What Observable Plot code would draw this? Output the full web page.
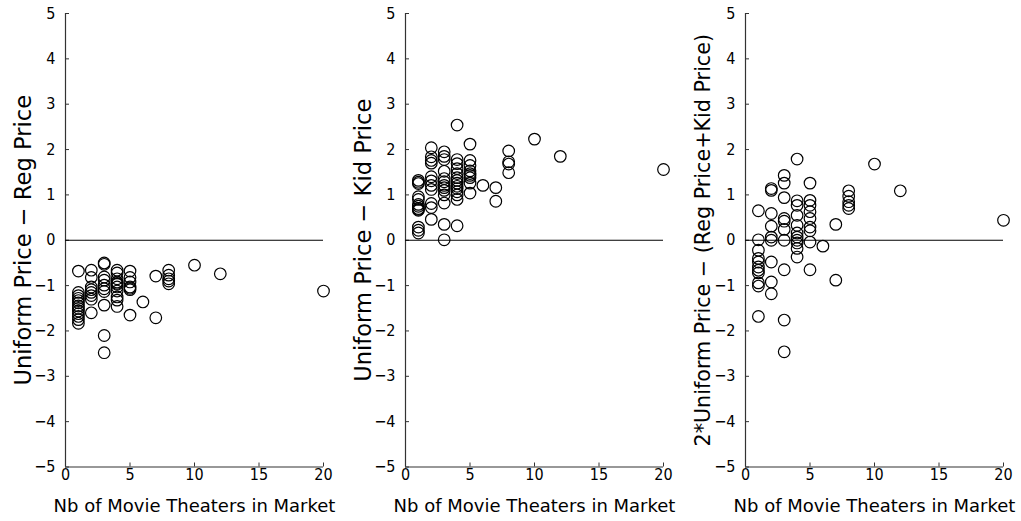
<!DOCTYPE html>
<html>
<head>
<meta charset="utf-8">
<script src="https://cdn.jsdelivr.net/npm/d3@7"></script>
<script src="https://cdn.jsdelivr.net/npm/@observablehq/plot@0.6"></script>
<style>
  html, body { margin: 0; padding: 0; background: #fff; }
  #row { display: flex; flex-direction: row; width: 1021px; }
  #row svg { display: block; }
  #row svg g[aria-label="x-axis tick label"] text,
  #row svg g[aria-label="y-axis tick label"] text { font-stretch: condensed; }
</style>
</head>
<body>
<div id="row"></div>
<script>
// ---- data ----
const xTicks = [0, 5, 10, 15, 20];
const yTicks = [-5, -4, -3, -2, -1, 0, 1, 2, 3, 4, 5];
const xLabel = "Nb of Movie Theaters in Market";

const regLabel = "Uniform Price \u2212 Reg Price";
const regTheaters = [
  1,1,1,1,1,1,1,1,1,1,1,1,1,
  2,2,2,2,2,2,2,2,
  3,3,3,3,3,3,3,3,3,3,
  4,4,4,4,4,4,4,4,4,4,4,
  5,5,5,5,5,5,5,
  6, 7,7, 8,8,8,8,8, 10, 12, 20
];
const regDiff = [
  -0.68,-1.15,-1.22,-1.28,-1.33,-1.38,-1.45,-1.5,-1.56,-1.62,-1.68,-1.75,-1.83,
  -0.66,-0.82,-1.03,-1.09,-1.15,-1.22,-1.3,-1.6,
  -0.5,-0.53,-0.81,-0.88,-0.99,-1.07,-1.13,-1.43,-2.1,-2.48,
  -0.66,-0.72,-0.85,-0.92,-0.95,-0.97,-1.03,-1.12,-1.25,-1.32,-1.46,
  -0.68,-0.82,-0.92,-1.03,-1.06,-1.09,-1.65,
  -1.36, -0.79,-1.71, -0.66,-0.77,-0.85,-0.9,-0.96, -0.55, -0.74, -1.12
];

const kidLabel = "Uniform Price \u2212 Kid Price";
const kidTheaters = [
  1,1,1,1,1,1,1,1,1,1,1,1,1,
  2,2,2,2,2,2,2,2,2,2,2,
  3,3,3,3,3,3,3,3,3,3,3,3,3,
  4,4,4,4,4,4,4,4,4,4,4,4,4,4,
  5,5,5,5,5,5,5,5,5,
  6, 7,7, 8,8,8,8, 10, 12, 20
];
const kidDiff = [
  1.32,1.28,1.25,0.96,0.9,0.79,0.75,0.7,0.68,0.66,0.29,0.22,0.16,
  2.04,1.84,1.76,1.7,1.4,1.31,1.21,1.12,0.81,0.72,0.46,
  1.95,1.85,1.78,1.52,1.36,1.29,1.21,1.16,1.1,1.0,0.82,0.35,0.01,
  2.54,1.78,1.69,1.58,1.47,1.38,1.32,1.26,1.19,1.14,1.07,1.0,0.9,0.32,
  2.12,1.76,1.65,1.53,1.47,1.43,1.38,1.26,1.04,
  1.21, 1.16,0.86, 1.97,1.73,1.68,1.49, 2.23, 1.85, 1.56
];

const avgLabel = "2*Uniform Price \u2212 (Reg Price+Kid Price)";
const avgTheaters = [
  1,1,1,1,1,1,1,1,1,1,1,
  2,2,2,2,2,2,2,2,2,
  3,3,3,3,3,3,3,3,3,3,
  4,4,4,4,4,4,4,4,4,4,4,
  5,5,5,5,5,5,5,5,5,
  6, 7,7, 8,8,8,8,8, 10, 12, 20
];
const avgDiff = [
  0.65,0.01,-0.22,-0.4,-0.48,-0.59,-0.66,-0.72,-0.94,-1.01,-1.68,
  1.14,1.1,0.59,0.31,0.07,0.0,-0.48,-0.92,-1.18,
  1.43,1.26,0.94,0.48,0.42,0.24,0.0,-0.65,-1.76,-2.46,
  1.79,0.87,0.77,0.55,0.33,0.16,0.07,0.0,-0.06,-0.18,-0.37,
  1.26,0.88,0.77,0.63,0.48,0.29,0.21,-0.04,-0.65,
  -0.13, 0.35,-0.88, 1.09,0.97,0.85,0.77,0.7, 1.68, 1.09, 0.44
];

// ---- drawing ----
const labelFont = "'DejaVu Sans', sans-serif";
const tickFont = "'DejaVu Sans Condensed', 'Liberation Sans Narrow', 'DejaVu Sans', sans-serif";

function panel(xs, ys, yLabel, yLabelSize) {
  const pts = xs.map((x, i) => ({x, y: ys[i]}));
  return Plot.plot({
    width: 340,
    height: 521,
    marginLeft: 65,
    marginRight: 17,
    marginTop: 13,
    marginBottom: 54.5,
    style: {fontFamily: tickFont, fontSize: "16px", color: "#000", background: "#fff", overflow: "visible"},
    x: {domain: [0, 20]},
    y: {domain: [-5, 5]},
    marks: [
      Plot.axisX({ticks: xTicks, tickSize: -4, tickPadding: 6, label: null, stroke: "#333", fontSize: 16}),
      Plot.axisY({ticks: yTicks, tickSize: -4, tickPadding: 14, label: null, stroke: "#333", fontSize: 16,
                  tickFormat: d => d < 0 ? "\u2212" + Math.abs(d) : String(d)}),
      Plot.ruleX([0], {y1: -5, y2: 5, stroke: "#333", strokeWidth: 1.2}),
      Plot.ruleY([-5], {x1: 0, x2: 20, stroke: "#333", strokeWidth: 1.2}),
      Plot.ruleY([0], {x1: 0, x2: 20, stroke: "#000", strokeWidth: 1.2}),
      Plot.dot(pts, {x: "x", y: "y", r: 5.8, stroke: "#000", strokeWidth: 1.2, fill: "none"}),
      Plot.text([yLabel], {frameAnchor: "left", dx: -42, rotate: -90, textAnchor: "middle", lineAnchor: "middle",
                           fontFamily: labelFont, fontSize: yLabelSize, fill: "#000"}),
      Plot.text([xLabel], {frameAnchor: "bottom", dy: 39.5, textAnchor: "middle", lineAnchor: "middle",
                           fontFamily: labelFont, fontSize: 18, fill: "#000"})
    ]
  });
}

const row = document.getElementById("row");
row.append(panel(regTheaters, regDiff, regLabel, 22.6));
row.append(panel(kidTheaters, kidDiff, kidLabel, 22.6));
row.append(panel(avgTheaters, avgDiff, avgLabel, 20.7));
</script>
</body>
</html>
